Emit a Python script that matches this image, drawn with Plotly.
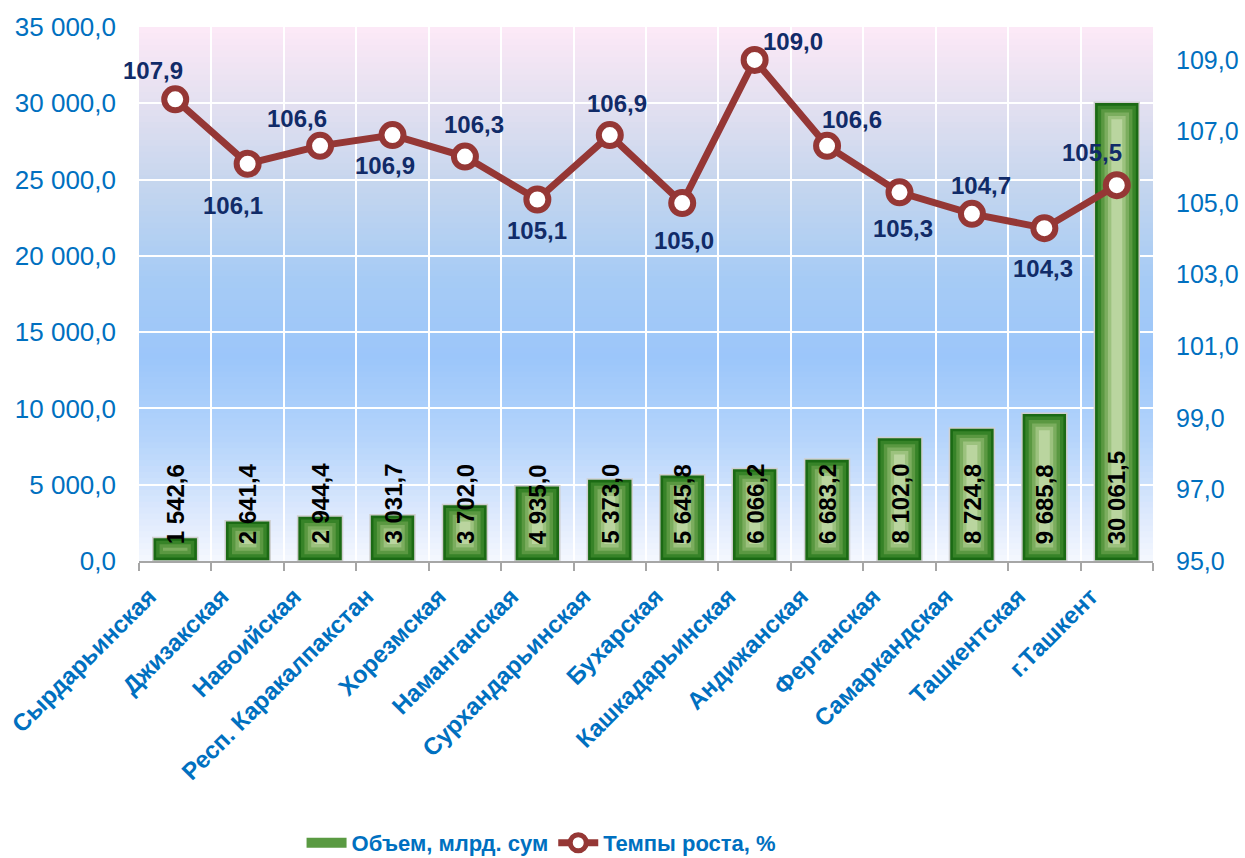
import plotly.graph_objects as go

regions = ["Сырдарьинская", "Джизакская", "Навоийская", "Респ. Каракалпакстан",
           "Хорезмская", "Наманганская", "Сурхандарьинская", "Бухарская",
           "Кашкадарьинская", "Андижанская", "Ферганская", "Самаркандская",
           "Ташкентская", "г.Ташкент"]
volume = [1542.6, 2641.4, 2944.4, 3031.7, 3702.0, 4935.0, 5373.0, 5645.8,
          6066.2, 6683.2, 8102.0, 8724.8, 9685.8, 30061.5]
growth = [107.9, 106.1, 106.6, 106.9, 106.3, 105.1, 106.9, 105.0,
          109.0, 106.6, 105.3, 104.7, 104.3, 105.5]

# label placement (pixel shifts), style only
lbl_dx = [-22, -15, -23, -8, 9, 0, 7, 2, 38, 25, 3, 9, -1, -25]
lbl_dy = [29, -42, 27, -30, 32, -31, 32, -37, 18, 26, -36, 28, -40, 33]

def fmt_vol(v):
    return f"{v:,.1f}".replace(",", " ").replace(".", ",")

def fmt_g(v):
    return f"{v:.1f}".replace(".", ",")

Y_MAX = 35000
PLOT_H = 534
units_per_px = Y_MAX / PLOT_H
cat_px = 72.4

fig = go.Figure()

# background gradient strips
stops = [(0.0, (253, 233, 247)), (0.14, (228, 224, 240)), (0.29, (198, 214, 238)),
         (0.47, (166, 203, 245)), (0.62, (156, 198, 250)), (0.77, (180, 212, 251)),
         (0.92, (223, 234, 253)), (1.0, (245, 248, 254))]

def col_at(t):
    for (t0, c0), (t1, c1) in zip(stops[:-1], stops[1:]):
        if t0 <= t <= t1:
            f = (t - t0) / (t1 - t0) if t1 > t0 else 0
            return "rgb(%d,%d,%d)" % tuple(round(a + (b - a) * f) for a, b in zip(c0, c1))
    return "rgb(%d,%d,%d)" % stops[-1][1]

N = 90
shapes = []
for i in range(N):
    t = (i + 0.5) / N
    y1 = 1 - i / N
    y0 = 1 - (i + 1) / N - 0.002
    shapes.append(dict(type="rect", xref="x domain", yref="y domain",
                       x0=0, x1=1, y0=max(y0, 0), y1=y1, fillcolor=col_at(t),
                       line=dict(width=0), layer="below"))

# concentric bar layers to mimic gradient fill
layer_colors = ["#1b6a14", "#378328", "#5a9841", "#7bad5e", "#9cc27e", "#bad59f"]
inset_px = 3.4
outer_w = 0.62
for i, c in enumerate(layer_colors):
    w = outer_w - 2 * i * inset_px / cat_px
    inset = i * inset_px * units_per_px
    ys = [max(v - 2 * inset, 0) for v in volume]
    fig.add_trace(go.Bar(
        x=regions, y=ys, base=[inset] * len(volume), width=w,
        marker=dict(color=c, line=dict(color="#cfcfcf" if i == 0 else c,
                                        width=1.5 if i == 0 else 0)),
        name="Объем, млрд. сум", showlegend=False, hoverinfo="skip",
        yaxis="y"))

# legend entry for the bars (wide rectangle swatch)
fig.add_trace(go.Scatter(x=[None], y=[None], mode="lines", name="Объем, млрд. сум",
                         line=dict(color="#5a9a42", width=14), showlegend=True))

fig.add_trace(go.Scatter(
    x=regions, y=growth, yaxis="y2", mode="lines+markers",
    name="Темпы роста, %",
    line=dict(color="#953735", width=7),
    marker=dict(size=22, color="white", line=dict(color="#953735", width=6))))

annotations = []
for r, v in zip(regions, volume):
    annotations.append(dict(x=r, y=0, xref="x", yref="y", text=fmt_vol(v),
                            textangle=-90, showarrow=False, yanchor="bottom",
                            yshift=15, font=dict(family="Arial", size=24,
                                                 color="black", weight="bold")))
for r, v, dx, dy in zip(regions, growth, lbl_dx, lbl_dy):
    annotations.append(dict(x=r, y=v, xref="x", yref="y2", text=fmt_g(v),
                            showarrow=False, xshift=dx, yshift=dy,
                            font=dict(family="Arial", size=24, color="#112b68",
                                      weight="bold")))

fig.update_layout(
    width=1245, height=858,
    margin=dict(l=139, r=92, t=27, b=297, autoexpand=False),
    paper_bgcolor="white", plot_bgcolor="rgba(0,0,0,0)",
    separators=", ",
    barmode="overlay",
    shapes=shapes,
    annotations=annotations,
    font=dict(family="Arial", color="#0070c0"),
    xaxis=dict(range=[-0.5, 13.5], showgrid=True, gridcolor="white", gridwidth=2,
               tickson="boundaries", ticks="outside", ticklen=8, tickcolor="#a6a6a6",
               tickwidth=2, showline=True, linecolor="#a6a6a6", linewidth=2,
               tickangle=-45, automargin=False, ticklabelshift=-26, ticklabelstandoff=10,
               tickfont=dict(size=24, color="#0070c0", weight="bold")),
    yaxis=dict(range=[0, Y_MAX], dtick=5000, tickformat=",.1f", showgrid=True,
               gridcolor="white", gridwidth=2, zeroline=False, showline=False,
               ticks="", ticklabelstandoff=22, automargin=False,
               tickfont=dict(size=26, color="#0070c0")),
    yaxis2=dict(range=[95, 95 + PLOT_H / 35.79], overlaying="y", side="right",
                tick0=95, dtick=2, tickformat=".1f", showgrid=False, zeroline=False,
                showline=False, ticks="", ticklabelstandoff=22, automargin=False,
                tickfont=dict(size=25, color="#0070c0")),
    legend=dict(orientation="h", x=0.397, xanchor="center", y=-0.528, yanchor="middle",
                font=dict(family="Arial", size=22, color="#0070c0", weight="bold"),
                itemwidth=40, bgcolor="rgba(0,0,0,0)", traceorder="normal"),
)

fig.write_html("out.html", config={"displayModeBar": False},
               post_script="document.body.style.margin='0px';")
